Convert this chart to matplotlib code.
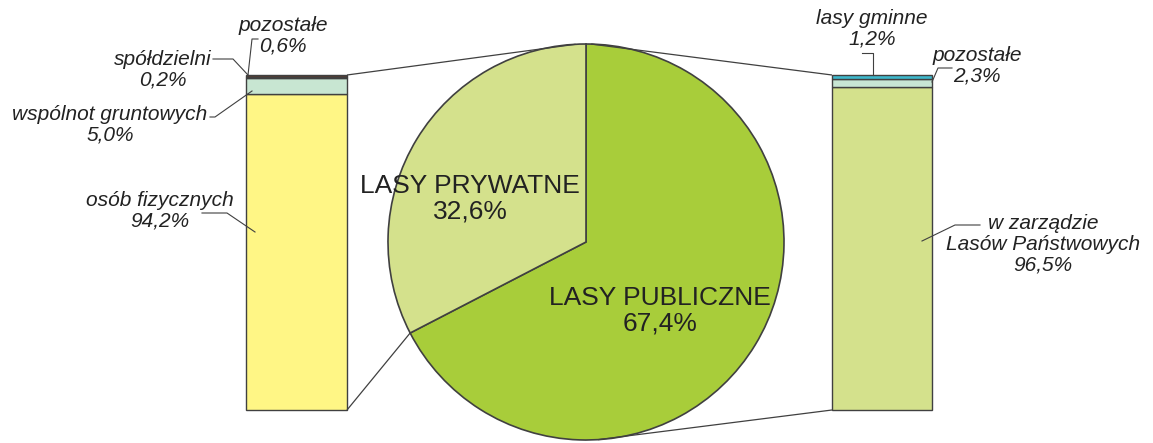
import numpy as np
import matplotlib
matplotlib.use('Agg')
import matplotlib.pyplot as plt

# dane
pie_labels = ['LASY PUBLICZNE', 'LASY PRYWATNE']
pie_values = [67.4, 32.6]
pie_colors = ['#a8cd3a', '#d4e18c']

left_labels = ['osób fizycznych', 'wspólnot gruntowych', 'spółdzielni', 'pozostałe']
left_values = [94.2, 5.0, 0.2, 0.6]
left_colors = ['#fff685', '#c8e6d2', '#7a5a48', '#5a3c30']

right_labels = ['w zarządzie\nLasów Państwowych', 'pozostałe', 'lasy gminne']
right_values = [96.5, 2.3, 1.2]
right_colors = ['#d4e18c', '#c8e6d4', '#3db8cc']

W, H = 1153, 443
EDGE = '#404040'
TXT = '#222222'


def yp(p):
    # piksel od góry -> współrzędna osi
    return H - p


def fmt(v):
    return f'{v:.1f}'.replace('.', ',') + '%'


fig = plt.figure(figsize=(W / 100, H / 100), dpi=100)
ax = fig.add_axes([0, 0, 1, 1])

# wykres kołowy
cx, cy, r = 586, yp(242), 198
ax.pie(pie_values, colors=pie_colors, startangle=90, counterclock=False,
       center=(cx, cy), radius=r,
       wedgeprops=dict(edgecolor=EDGE, linewidth=1.2))

# słupki
bar_bottom = yp(410)
scale = 335 / 100.0
lx, lw = 296.5, 101
rx, rw = 882, 100


def stacked(x, w, values, colors):
    bottom = bar_bottom
    tops = []
    for v, c in zip(values, colors):
        ax.bar(x, v * scale, width=w, bottom=bottom, color=c,
               edgecolor=EDGE, linewidth=1.0)
        bottom += v * scale
        tops.append(bottom)
    return tops


ltops = stacked(lx, lw, left_values, left_colors)
rtops = stacked(rx, rw, right_values, right_colors)


def circ(angle):
    a = np.deg2rad(angle)
    return cx + r * np.cos(a), cy + r * np.sin(a)


split_angle = 90 - 360 * pie_values[0] / 100.0
line_kw = dict(color=EDGE, linewidth=0.9, solid_capstyle='butt')

# linie łączące
p = circ(93)
ax.plot([lx + lw / 2, p[0]], [ltops[-1], p[1]], **line_kw)
p = circ(split_angle)
ax.plot([lx + lw / 2, p[0]], [bar_bottom, p[1]], **line_kw)
p = circ(88.5)
ax.plot([rx - rw / 2, p[0]], [rtops[-1], p[1]], **line_kw)
p = circ(273.5)
ax.plot([rx - rw / 2, p[0]], [bar_bottom, p[1]], **line_kw)

# etykiety koła
ax.text(470, yp(199), f'{pie_labels[1]}\n{fmt(pie_values[1])}', ha='center', va='center',
        fontsize=19, family='Liberation Sans', color=TXT, linespacing=1.08)
ax.text(660, yp(311), f'{pie_labels[0]}\n{fmt(pie_values[0])}', ha='center', va='center',
        fontsize=19, family='Liberation Sans', color=TXT, linespacing=1.08)

lab_kw = dict(ha='center', va='center', fontsize=15, style='italic',
              family='Liberation Sans', color=TXT, linespacing=1.12)
lead_kw = dict(color=EDGE, linewidth=0.8)

# lewy słupek - etykiety
ax.text(160, yp(211), f'{left_labels[0]}\n{fmt(left_values[0])}', **lab_kw)
ax.plot([202, 227, 255], [yp(213), yp(213), yp(232)], **lead_kw)

ax.text(110, yp(125), f'{left_labels[1]}\n{fmt(left_values[1])}', **lab_kw)
ax.plot([210, 215, 252], [yp(117), yp(117), yp(91)], **lead_kw)

ax.text(163, yp(70), f'{left_labels[2]}\n{fmt(left_values[2])}', **lab_kw)
ax.plot([213, 233, 248], [yp(59), yp(59), ltops[-1]], **lead_kw)

ax.text(283, yp(35.5), f'{left_labels[3]}\n{fmt(left_values[3])}', **lab_kw)
ax.plot([258, 252, 248], [yp(39), yp(39), ltops[-1]], **lead_kw)

# prawy słupek - etykiety
ax.text(1043, yp(244), f'{right_labels[0]}\n{fmt(right_values[0])}', **lab_kw)
ax.plot([980, 955, 922], [yp(225), yp(225), yp(241)], **lead_kw)

ax.text(977, yp(66), f'{right_labels[1]}\n{fmt(right_values[1])}', **lab_kw)
ax.plot([952, 938, 932], [yp(68), yp(68), yp(82)], **lead_kw)

ax.text(872, yp(29), f'{right_labels[2]}\n{fmt(right_values[2])}', **lab_kw)
ax.plot([862, 873, 873], [yp(53), yp(53), rtops[-1]], **lead_kw)

ax.set_xlim(0, W)
ax.set_ylim(0, H)
ax.set_aspect('equal')
ax.axis('off')

fig.savefig('out.png', dpi=100)
